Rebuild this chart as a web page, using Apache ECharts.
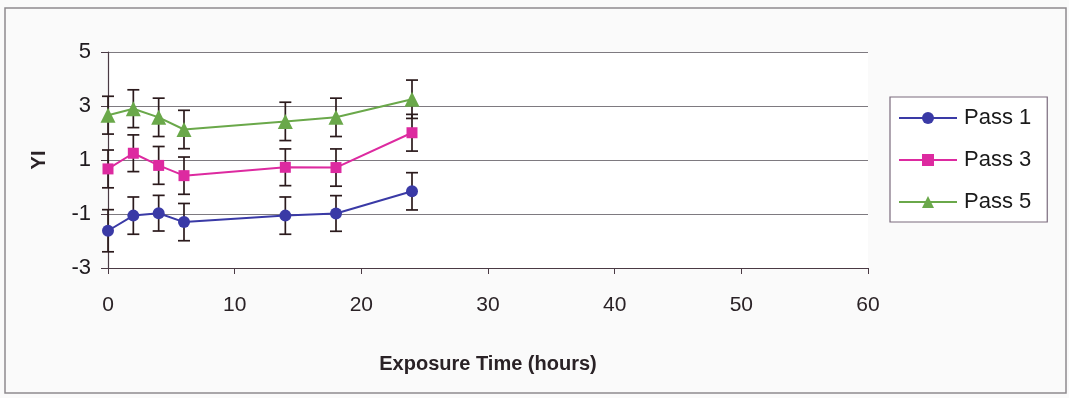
<!DOCTYPE html>
<html>
<head>
<meta charset="utf-8">
<script src="https://cdn.jsdelivr.net/npm/echarts@6/dist/echarts.min.js"></script>
<style>
  html, body { margin: 0; padding: 0; background: #fafafa; }
  #chart { width: 1069px; height: 398px; }
</style>
</head>
<body>
<div id="chart"></div>
<script>
// Exposure time (hours) at which each sample was measured
const hours = [0, 2, 4, 6, 14, 18, 24];

// Yellowness index per processing pass
const pass1 = [-1.62, -1.06, -0.97, -1.30, -1.06, -0.98, -0.16];
const pass3 = [0.67, 1.25, 0.80, 0.42, 0.73, 0.72, 2.01];
const pass5 = [2.66, 2.90, 2.58, 2.13, 2.43, 2.58, 3.25];

// Half-width of the error bars (± one standard deviation)
const err1 = [0.78, 0.69, 0.66, 0.69, 0.69, 0.66, 0.69];
const err3 = [0.70, 0.68, 0.70, 0.69, 0.68, 0.69, 0.68];
const err5 = [0.70, 0.70, 0.71, 0.71, 0.71, 0.71, 0.71];

const xTicks = [0, 10, 20, 30, 40, 50, 60];
const yTicks = [-3, -1, 1, 3, 5];

const names = ['Pass 1', 'Pass 3', 'Pass 5'];
const colors = ['#3a3aa6', '#dd2aa0', '#6aa84a'];
const symbols = ['circle', 'rect', 'triangle'];
const symbolSizes = [12, 11, 15];

const font = 'Liberation Sans, Arial, sans-serif';

function pairs(ys) { return hours.map((h, i) => [h, ys[i]]); }
function bars(ys, es) { return hours.map((h, i) => [h, ys[i] - es[i], ys[i] + es[i]]); }

function errorBarSeries(ys, es) {
  return {
    type: 'custom',
    silent: true,
    z: 3,
    data: bars(ys, es),
    renderItem(params, api) {
      const lo = api.coord([api.value(0), api.value(1)]);
      const hi = api.coord([api.value(0), api.value(2)]);
      const half = 6;
      const style = { stroke: '#2b1a1c', lineWidth: 1.7 };
      return {
        type: 'group',
        children: [
          { type: 'line', shape: { x1: lo[0], y1: lo[1], x2: hi[0], y2: hi[1] }, style },
          { type: 'line', shape: { x1: lo[0] - half, y1: lo[1], x2: lo[0] + half, y2: lo[1] }, style },
          { type: 'line', shape: { x1: hi[0] - half, y1: hi[1], x2: hi[0] + half, y2: hi[1] }, style }
        ]
      };
    }
  };
}

const values = [pass1, pass3, pass5];
const errs = [err1, err3, err5];

const lineSeries = values.map((ys, k) => ({
  name: names[k],
  type: 'line',
  data: pairs(ys),
  symbol: symbols[k],
  symbolSize: symbolSizes[k],
  showAllSymbol: true,
  z: 4,
  lineStyle: { color: colors[k], width: 2 },
  itemStyle: { color: colors[k] }
}));

const chart = echarts.init(document.getElementById('chart'), null, { renderer: 'canvas' });

chart.setOption({
  backgroundColor: '#fafafa',
  animation: false,
  graphic: [
    {
      type: 'rect',
      shape: { x: 5, y: 8, width: 1061, height: 385 },
      style: { fill: 'none', stroke: '#8e8a8e', lineWidth: 1.5 },
      z: -1
    }
  ],
  grid: {
    left: 108, right: 201, top: 52, bottom: 130,
    show: true, backgroundColor: '#ffffff', borderWidth: 0
  },
  legend: {
    orient: 'vertical',
    left: 890, top: 97,
    data: names,
    itemWidth: 58, itemHeight: 15,
    itemGap: 20,
    padding: [10, 16, 9, 8],
    borderColor: '#7a6a7c', borderWidth: 1.2,
    backgroundColor: '#ffffff',
    textStyle: { fontFamily: font, fontSize: 22, color: '#1a1a1a', padding: [0, 0, 0, 2] }
  },
  xAxis: {
    type: 'value',
    min: 0, max: 60, interval: 10,
    name: 'Exposure Time (hours)',
    nameLocation: 'middle',
    nameGap: 86,
    nameTextStyle: { fontFamily: font, fontSize: 20, fontWeight: 'bold', color: '#2a2226' },
    axisLine: { show: true, onZero: false, lineStyle: { color: '#4a3a44', width: 1.2 } },
    axisTick: { show: true, inside: false, length: 6, lineStyle: { color: '#4a3a44' } },
    axisLabel: {
      margin: 27, fontFamily: font, fontSize: 21, color: '#2a2226',
      formatter: v => (xTicks.includes(v) ? String(v) : '')
    },
    splitLine: { show: false }
  },
  yAxis: {
    type: 'value',
    min: -3, max: 5, interval: 2,
    name: 'YI',
    nameLocation: 'middle',
    nameGap: 59,
    nameTextStyle: { fontFamily: font, fontSize: 20, fontWeight: 'bold', color: '#2a2226' },
    axisLine: { show: true, onZero: false, lineStyle: { color: '#4a3a44', width: 1.2 } },
    axisTick: { show: true, inside: false, length: 7, lineStyle: { color: '#4a3a44' } },
    axisLabel: {
      margin: 17, fontFamily: font, fontSize: 22, color: '#1e1a1e',
      formatter: v => (yTicks.includes(v) ? String(v) : '')
    },
    splitLine: { show: true, lineStyle: { color: '#7e7a80', width: 1.2 } }
  },
  series: [
    ...values.map((ys, k) => errorBarSeries(ys, errs[k])),
    ...lineSeries
  ]
});
</script>
</body>
</html>
